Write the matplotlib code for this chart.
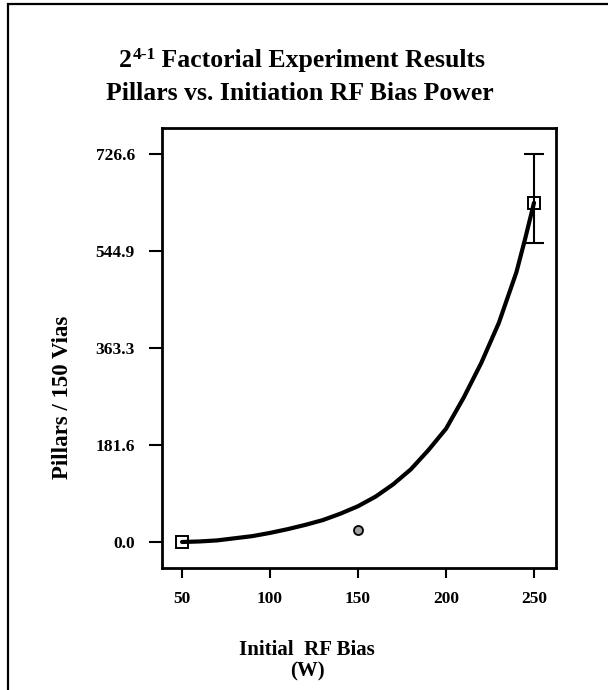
import matplotlib
matplotlib.use("Agg")
import matplotlib.pyplot as plt
from matplotlib.patches import Rectangle

# ---- data ----
curve_x = [50, 60, 70, 80, 90, 100, 110, 120, 130, 140, 150, 160, 170, 180,
           190, 200, 210, 220, 230, 240, 245, 250]
curve_y = [0, 1, 3, 7, 11, 17, 24, 32, 41, 53, 67, 85, 108, 136,
           172, 212, 270, 335, 410, 505, 568, 635]
square_x = [50, 250]
square_y = [0, 635]
center_x = [150]
center_y = [22]
err_x = [250]
err_y = [635]
err_low = [76]
err_high = [91.6]
yticks = [0.0, 181.6, 363.3, 544.9, 726.6]
ytick_labels = ["0.0", "181.6", "363.3", "544.9", "726.6"]
xticks = [50, 100, 150, 200, 250]
xtick_labels = ["50", "100", "150", "200", "250"]

plt.rcParams['font.family'] = ['Liberation Serif', 'DejaVu Serif']
plt.rcParams['font.weight'] = 'bold'

W, H = 608, 690
fig = plt.figure(figsize=(W / 100, H / 100), dpi=100)

# figure frame (left and top edges visible)
fig.patches.append(Rectangle((8 / W, -0.1), 1.2, (H - 4) / H + 0.1,
                             transform=fig.transFigure, fill=False,
                             edgecolor='black', linewidth=1.6))

ax = fig.add_axes([162 / W, 1 - 568 / H, (556 - 162) / W, (568 - 128) / H])
ax.plot(curve_x, curve_y, color='black', linewidth=3.0, solid_capstyle='round')
ax.errorbar(err_x, err_y, yerr=[err_low, err_high], fmt='none', ecolor='black',
            elinewidth=1.5, capsize=7, capthick=1.5)
ax.plot(square_x, square_y, linestyle='none', marker='s', markersize=9,
        markerfacecolor='none', markeredgecolor='black', markeredgewidth=1.4)
ax.plot(center_x, center_y, linestyle='none', marker='o', markersize=6.5,
        markerfacecolor='#a0a0a0', markeredgecolor='black', markeredgewidth=1.3)

ax.set_xlim(38.6, 262.5)
ax.set_ylim(-48.7, 775)
ax.set_xticks(xticks)
ax.set_xticklabels(xtick_labels, fontsize=12.5, fontweight='bold')
ax.set_yticks(yticks)
ax.set_yticklabels(ytick_labels, fontsize=12.5, fontweight='bold')
ax.tick_params(axis='y', length=9.5, width=1.5, pad=10)
ax.tick_params(axis='x', length=7.5, width=1.5, pad=9)
for s in ax.spines.values():
    s.set_linewidth(2.0)

# y label
fig.text(63 / W, 1 - 397 / H, "Pillars / 150 Vias", rotation=90, ha='center',
         va='center', fontsize=16.5, fontweight='bold')
# x label
fig.text(307 / W, 1 - 655 / H, "Initial  RF Bias", ha='center', va='baseline',
         fontsize=15, fontweight='bold')
fig.text(307 / W, 1 - 676 / H, "(W)", ha='center', va='baseline',
         fontsize=15, fontweight='bold')

# title
fig.text(300 / W, 1 - 100 / H, "Pillars vs. Initiation RF Bias Power",
         ha='center', va='baseline', fontsize=18.5, fontweight='bold')

# first title line with superscript
fig.canvas.draw()
r = fig.canvas.get_renderer()
p1 = fig.text(0, 0, "2", fontsize=18.5, fontweight='bold', va='baseline')
p2 = fig.text(0, 0, "4-1", fontsize=12.5, fontweight='bold', va='baseline')
p3 = fig.text(0, 0, " Factorial Experiment Results", fontsize=18.5,
              fontweight='bold', va='baseline')
w1 = p1.get_window_extent(r).width
w2 = p2.get_window_extent(r).width
w3 = p3.get_window_extent(r).width
total = w1 + w2 + w3
x0 = 302 - total / 2
base = H - 67
p1.set_position((x0 / W, base / H))
p2.set_position(((x0 + w1 + 1) / W, (base + 8) / H))
p3.set_position(((x0 + w1 + w2) / W, base / H))

fig.savefig("out.png", dpi=100)
